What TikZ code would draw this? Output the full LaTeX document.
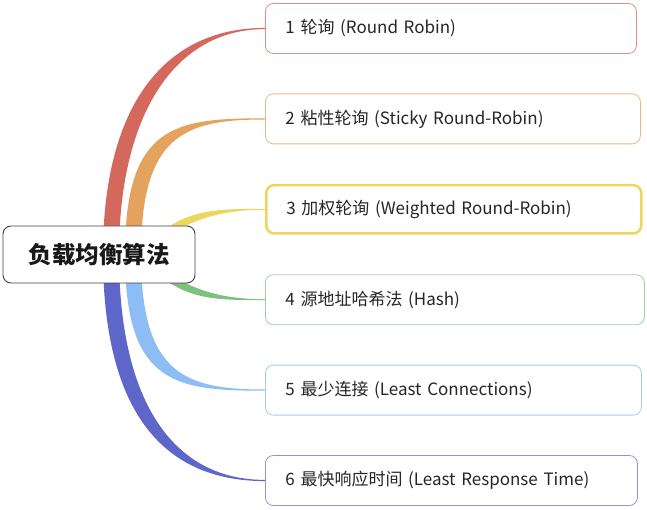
\documentclass[tikz,border=0pt]{standalone}
\usepackage{fontspec}
\setmainfont{Noto Sans CJK SC}
\usepackage{xcolor}
\usetikzlibrary{positioning,calc,backgrounds}

\definecolor{redBr}{HTML}{D5685D}
\definecolor{orangeBr}{HTML}{E3A25E}
\definecolor{yellowBr}{HTML}{ECD65C}
\definecolor{greenBr}{HTML}{7DC27C}
\definecolor{blueBr}{HTML}{8CBEF5}
\definecolor{indigoBr}{HTML}{5E66CA}

\begin{document}
\begin{tikzpicture}[
  x=1pt, y=1pt,
  node distance=39.6pt,
  hub/.style={rectangle, rounded corners=8pt, draw=black!75, line width=0.9pt,
              fill=white, minimum width=192pt, minimum height=57pt,
              text=black!90, font=\fontsize{23.5}{27}\selectfont\bfseries},
  leaf/.style={rectangle, rounded corners=8pt, fill=white, line width=0.8pt,
               minimum height=50pt, inner xsep=20pt, align=left,
               text=black!85, font=\fontsize{17}{20}\selectfont}
]
\useasboundingbox (0,0) rectangle (647,-510);
\node[hub] (hub) at (99,-254.5) {负载均衡算法};
\node[leaf, draw=redBr!75, text width=331pt, anchor=west] (rr) at (265,-28.5)
  {1 轮询 (Round Robin)};
\node[leaf, draw=orangeBr!75, text width=335pt, below=of rr.south west, anchor=north west] (srr)
  {2 粘性轮询 (Sticky Round-Robin)};
\node[leaf, draw=yellowBr, line width=2.5pt, minimum height=48.3pt, text width=335pt,
      below=of srr.south west, anchor=north west] (wrr)
  {3 加权轮询 (Weighted Round-Robin)};
\node[leaf, draw=greenBr!75, text width=339pt, below=of wrr.south west, anchor=north west] (hash)
  {4 源地址哈希法 (Hash)};
\node[leaf, draw=blueBr!80, text width=336pt, below=of hash.south west, anchor=north west] (lc)
  {5 最少连接 (Least Connections)};
\node[leaf, draw=indigoBr!70, text width=332pt, below=of lc.south west, anchor=north west] (lrt)
  {6 最快响应时间 (Least Response Time)};
\begin{scope}[on background layer]
\fill[redBr] ($(hub.center)+(4,0)$) .. controls +(0,150) and +(-100,0) .. ($(rr.west)+(0,0.6)$)
  -- ($(rr.west)+(0,-0.6)$) .. controls +(-90,0) and +(0,140) .. ($(hub.center)+(20,0)$) -- cycle;
\fill[orangeBr] ($(hub.center)+(26,0)$) .. controls +(0,130) and +(-90,0) .. ($(srr.west)+(0,0.6)$)
  -- ($(srr.west)+(0,-0.6)$) .. controls +(-80,0) and +(0,120) .. ($(hub.center)+(42,0)$) -- cycle;
\fill[yellowBr] ($(hub.center)+(45,9)$) .. controls +(40,35) and +(-60,0) .. ($(wrr.west)+(0,0.5)$)
  -- ($(wrr.west)+(0,-0.5)$) .. controls +(-55,0) and +(35,30) .. ($(hub.center)+(45,0)$) -- cycle;
\fill[greenBr] ($(hub.center)+(45,-9)$) .. controls +(40,-35) and +(-60,0) .. ($(hash.west)+(0,-0.5)$)
  -- ($(hash.west)+(0,0.5)$) .. controls +(-55,0) and +(35,-30) .. ($(hub.center)+(45,0)$) -- cycle;
\fill[blueBr] ($(hub.center)+(26,0)$) .. controls +(0,-130) and +(-90,0) .. ($(lc.west)+(0,-0.6)$)
  -- ($(lc.west)+(0,0.6)$) .. controls +(-80,0) and +(0,-120) .. ($(hub.center)+(42,0)$) -- cycle;
\fill[indigoBr] ($(hub.center)+(4,0)$) .. controls +(0,-160) and +(-100,0) .. ($(lrt.west)+(0,-0.6)$)
  -- ($(lrt.west)+(0,0.6)$) .. controls +(-90,0) and +(0,-150) .. ($(hub.center)+(20,0)$) -- cycle;
\end{scope}
\end{tikzpicture}
\end{document}
